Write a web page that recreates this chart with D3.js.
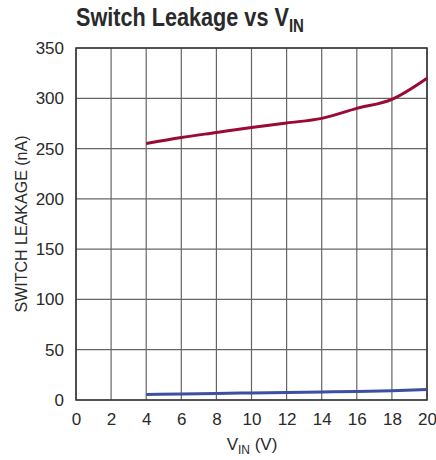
<!DOCTYPE html>
<html>
<head>
<meta charset="utf-8">
<script src="https://cdn.jsdelivr.net/npm/d3@7"></script>
<style>
  body { margin: 0; background: #fff; }
  text { font-family: "Liberation Sans", Arial, sans-serif; fill: #2a2a2a; }
</style>
</head>
<body>
<svg width="436" height="460"></svg>
<script>
// Data
const vin = [4, 6, 8, 10, 12, 14, 16, 18, 20];
const leakHigh = [255, 261, 266, 271, 275.5, 280, 290, 299, 320];
const leakLow = [5.5, 6, 6.5, 7, 7.5, 8, 8.5, 9.3, 10.5];
const xTicks = [0, 2, 4, 6, 8, 10, 12, 14, 16, 18, 20];
const yTicks = [0, 50, 100, 150, 200, 250, 300, 350];

const plotLeft = 76, plotRight = 427, plotTop = 48, plotBottom = 400;

let x = d3.scaleLinear().domain([0, 20]).range([plotLeft, plotRight]);
let y = d3.scaleLinear().domain([0, 350]).range([plotBottom, plotTop]);

let svg = d3.select("svg");

// grid
svg.append("g")
  .selectAll("line")
  .data(xTicks)
  .join("line")
  .attr("x1", d => x(d)).attr("x2", d => x(d))
  .attr("y1", plotTop).attr("y2", plotBottom)
  .attr("stroke", "#666").attr("stroke-width", 1.2);

svg.append("g")
  .selectAll("line")
  .data(yTicks)
  .join("line")
  .attr("x1", plotLeft).attr("x2", plotRight)
  .attr("y1", d => y(d)).attr("y2", d => y(d))
  .attr("stroke", "#666").attr("stroke-width", 1.2);

// frame
svg.append("rect")
  .attr("x", plotLeft).attr("y", plotTop)
  .attr("width", plotRight - plotLeft).attr("height", plotBottom - plotTop)
  .attr("fill", "none").attr("stroke", "#333").attr("stroke-width", 1.5);

// tick labels
let xAxis = d3.axisBottom(x).tickValues(xTicks).tickSize(0).tickPadding(13);
let yAxis = d3.axisLeft(y).tickValues(yTicks).tickSize(0).tickPadding(12);

svg.append("g")
  .attr("transform", `translate(0, ${plotBottom})`)
  .call(xAxis)
  .attr("font-family", null)
  .call(g => g.select(".domain").remove())
  .selectAll("text")
  .style("font-size", "17px")
  .attr("fill", "#2a2a2a");

svg.append("g")
  .attr("transform", `translate(${plotLeft}, 0)`)
  .call(yAxis)
  .attr("font-family", null)
  .call(g => g.select(".domain").remove())
  .selectAll("text")
  .style("font-size", "17px")
  .attr("fill", "#2a2a2a");

// lines
let line = d3.line()
  .x((d, i) => x(vin[i]))
  .y(d => y(d))
  .curve(d3.curveMonotoneX);

svg.append("path")
  .datum(leakHigh)
  .attr("d", line)
  .attr("fill", "none")
  .attr("stroke", "#9a0a35")
  .attr("stroke-width", 3);

svg.append("path")
  .datum(leakLow)
  .attr("d", line)
  .attr("fill", "none")
  .attr("stroke", "#3c4fa0")
  .attr("stroke-width", 3);

// title (condensed bold)
let title = svg.append("text")
  .attr("transform", "translate(76, 26) scale(0.833, 1)")
  .style("font-size", "26px")
  .style("font-weight", "bold");
title.append("tspan").text("Switch Leakage vs V");
title.append("tspan").attr("dy", 5.5).style("font-size", "18px").text("IN");

// axis titles
let xl = svg.append("text")
  .attr("x", 252).attr("y", 450)
  .attr("text-anchor", "middle")
  .style("font-size", "17px");
xl.append("tspan").text("V");
xl.append("tspan").attr("dy", 4).style("font-size", "12px").text("IN");
xl.append("tspan").attr("dy", -4).text(" (V)");

svg.append("text")
  .attr("transform", "translate(27, 224) rotate(-90)")
  .attr("text-anchor", "middle")
  .attr("textLength", 177)
  .attr("lengthAdjust", "spacingAndGlyphs")
  .style("font-size", "16px")
  .text("SWITCH LEAKAGE (nA)");
</script>
</body>
</html>
